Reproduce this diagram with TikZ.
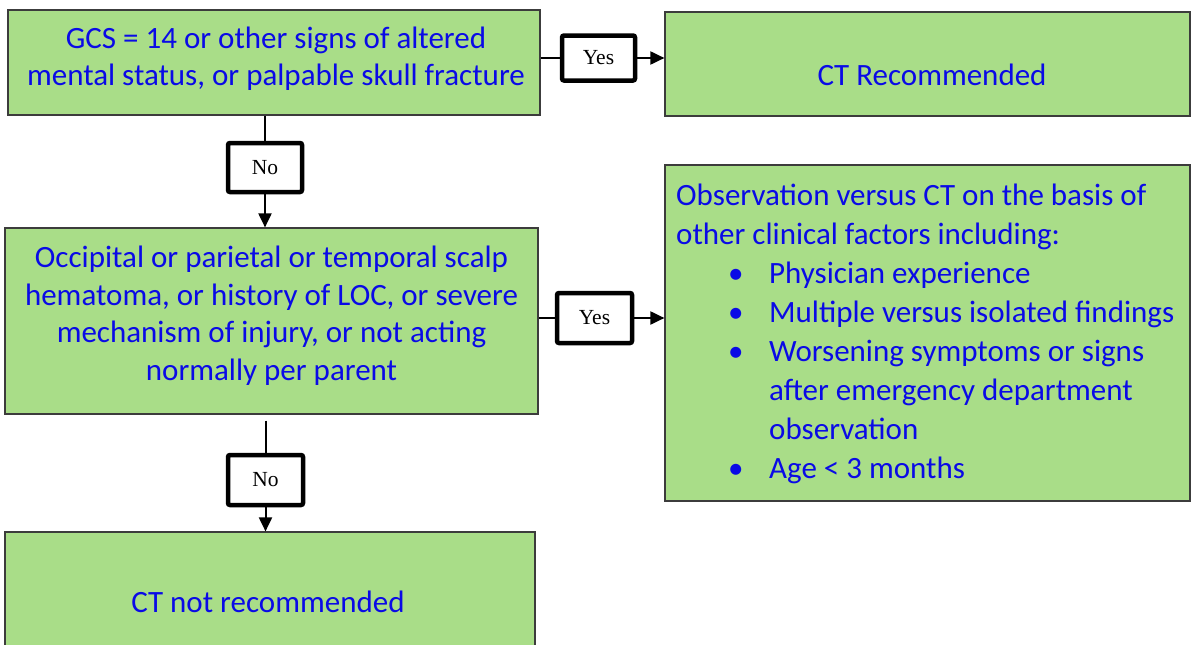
\documentclass[tikz,border=0pt]{standalone}
\usepackage{fontspec}
\setmainfont{Carlito}
\newfontfamily\lblfont{Liberation Serif}
\usetikzlibrary{arrows.meta}
\definecolor{boxgreen}{RGB}{169,221,136}
\definecolor{txtblue}{RGB}{10,10,230}
\definecolor{edgegray}{RGB}{60,60,60}
\tikzset{
  gbox/.style={draw=edgegray, line width=1.2pt, fill=boxgreen, inner sep=0pt},
  gtext/.style={text=txtblue, align=center, inner sep=0pt, font=\fontsize{31}{37.5}\selectfont},
  lbl/.style={draw=black, line width=4.5pt, rounded corners=2pt, fill=white, inner sep=0pt,
    font=\lblfont\fontsize{21.5}{24}\selectfont},
  conn/.style={line width=2pt, black},
  arr/.style={conn, -{Triangle[length=14pt,width=13pt]}}
}
\begin{document}
\begin{tikzpicture}[x=1pt,y=1pt]
\useasboundingbox (0,0) rectangle (1191,-645);
\clip (0,0) rectangle (1191,-645);
\node[gbox, minimum width=532pt, minimum height=105pt] (b1) at (274,-62.5) {};
\node[gtext] (b1t) at (276,-58.5)
  {GCS = 14 or other signs of altered\\mental status, or palpable skull fracture};
\node[gbox, minimum width=525pt, minimum height=104pt] (ctr) at (927.5,-64) {};
\node[gtext] (ctrt) at (932,-75) {CT Recommended};
\node[gbox, minimum width=533pt, minimum height=186pt] (b2) at (271.5,-321) {};
\node[gtext] (b2t) at (271.5,-315.5)
  {Occipital or parietal or temporal scalp\\hematoma, or history of LOC, or severe\\mechanism of injury, or not acting\\normally per parent};
\node[gbox, minimum width=525pt, minimum height=336pt] (b3) at (927.5,-333) {};
\node[text=txtblue, align=left, anchor=west, inner sep=0pt, font=\fontsize{31}{39.1}\selectfont] (b3t) at (676,-334)
  {Observation versus CT on the basis of\\
   other clinical factors including:\\
   \hspace*{52pt}\makebox[41pt][l]{•}Physician experience\\
   \hspace*{52pt}\makebox[41pt][l]{•}Multiple versus isolated findings\\
   \hspace*{52pt}\makebox[41pt][l]{•}Worsening symptoms or signs\\
   \hspace*{93pt}after emergency department\\
   \hspace*{93pt}observation\\
   \hspace*{52pt}\makebox[41pt][l]{•}Age < 3 months};
\node[gbox, minimum width=530pt, minimum height=140pt] (b4) at (270,-602) {};
\node[gtext] (b4t) at (268,-602) {CT not recommended};
\node[lbl, minimum width=73pt, minimum height=45pt] (y1) at (598.5,-58) {Yes};
\node[lbl, minimum width=75pt, minimum height=50pt] (y2) at (594.5,-318) {Yes};
\node[lbl, minimum width=74pt, minimum height=49pt] (n1) at (265,-167.5) {No};
\node[lbl, minimum width=75pt, minimum height=50pt] (n2) at (265.5,-480) {No};
\draw[conn] (b1.east |- y1.west) -- (y1.west);
\draw[arr] (y1.east) -- (y1.east -| ctr.west);
\draw[conn] (b2.east |- y2.west) -- (y2.west);
\draw[arr] (y2.east) -- (y2.east -| b3.west);
\draw[conn] (n1.north |- b1.south) -- (n1.north);
\draw[arr] (n1.south) -- (n1.south |- b2.north);
\draw[conn] ([yshift=-6pt]n2.north |- b2.south) -- (n2.north);
\draw[arr] (n2.south) -- (n2.south |- b4.north);
\end{tikzpicture}
\end{document}
